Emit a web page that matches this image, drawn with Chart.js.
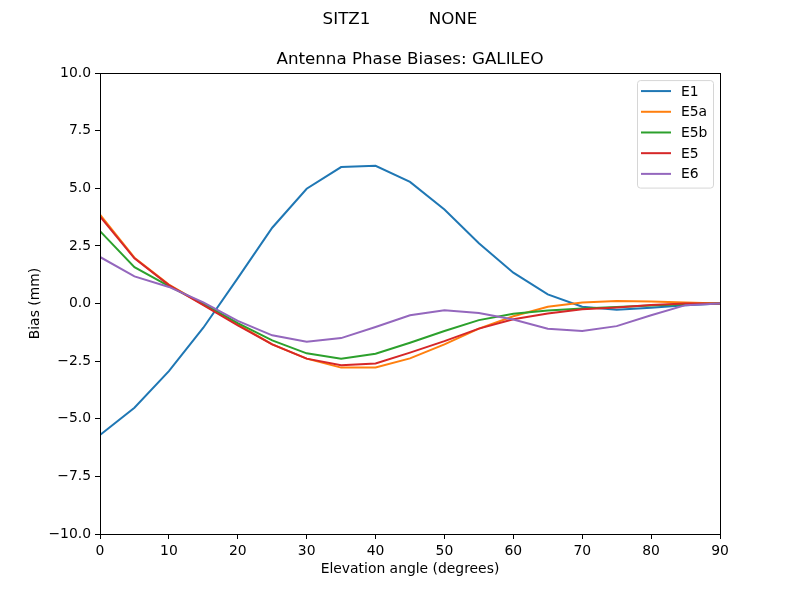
<!DOCTYPE html>
<html>
<head>
<meta charset="utf-8">
<script src="https://cdn.jsdelivr.net/npm/chart.js@4"></script>
<style>
  html, body { margin: 0; padding: 0; background: #fff; }
  canvas { display: block; }
</style>
</head>
<body>
<canvas id="chart" width="800" height="600"></canvas>
<script>
// Chart data
const elevation = [0, 5, 10, 15, 20, 25, 30, 35, 40, 45, 50, 55, 60, 65, 70, 75, 80, 85, 90];
const seriesNames = ['E1', 'E5a', 'E5b', 'E5', 'E6'];
const seriesColors = ['#1f77b4', '#ff7f0e', '#2ca02c', '#d62728', '#9467bd'];
const e1 = [-5.70, -4.52, -2.93, -1.05, 1.10, 3.29, 4.98, 5.92, 5.98, 5.28, 4.08, 2.62, 1.34, 0.40, -0.14, -0.27, -0.18, -0.07, 0.0];
const e5a = [3.86, 1.99, 0.82, -0.05, -0.90, -1.77, -2.39, -2.78, -2.77, -2.38, -1.77, -1.09, -0.55, -0.14, 0.04, 0.11, 0.09, 0.04, 0.0];
const e5b = [3.14, 1.58, 0.76, 0.00, -0.85, -1.60, -2.16, -2.39, -2.18, -1.70, -1.19, -0.72, -0.44, -0.30, -0.22, -0.15, -0.08, -0.03, 0.0];
const e5 = [3.78, 1.96, 0.80, -0.07, -0.95, -1.77, -2.39, -2.68, -2.60, -2.13, -1.63, -1.09, -0.68, -0.43, -0.25, -0.17, -0.06, 0.0, 0.0];
const e6 = [2.02, 1.18, 0.72, 0.05, -0.75, -1.38, -1.66, -1.50, -1.02, -0.51, -0.29, -0.41, -0.69, -1.09, -1.19, -0.98, -0.51, -0.07, 0.0];
const seriesValues = [e1, e5a, e5b, e5, e6];
const yTicks = [-10, -7.5, -5, -2.5, 0, 2.5, 5, 7.5, 10];

const FONT = 'DejaVu Sans';

// box around the plot and legend inside top right, like matplotlib
const framePlugin = {
  id: 'frame',
  afterDraw(chart) {
    const ctx = chart.ctx;
    const a = chart.chartArea;
    ctx.save();
    ctx.strokeStyle = '#000';
    ctx.lineWidth = 1;
    ctx.strokeRect(Math.round(a.left) + 0.5, Math.round(a.top) + 0.5,
      Math.round(a.right - a.left), Math.round(a.bottom - a.top));

    // legend
    const sets = chart.data.datasets;
    const boxW = 76, rowH = 20.7;
    const boxH = sets.length * rowH + 4;
    const bx = a.right - 7 - boxW, by = a.top + 7;
    ctx.fillStyle = 'rgba(255,255,255,0.8)';
    ctx.strokeStyle = '#d6d6d6';
    ctx.beginPath();
    ctx.roundRect(bx + 0.5, by + 0.5, boxW, boxH, 3);
    ctx.fill();
    ctx.stroke();
    ctx.font = '13.9px ' + FONT;
    ctx.textBaseline = 'middle';
    ctx.textAlign = 'left';
    sets.forEach((ds, i) => {
      const y = by + 11 + i * rowH;
      ctx.strokeStyle = ds.borderColor;
      ctx.lineWidth = 2;
      ctx.beginPath();
      ctx.moveTo(bx + 4, y);
      ctx.lineTo(bx + 34, y);
      ctx.stroke();
      ctx.fillStyle = '#000';
      ctx.fillText(ds.label, bx + 44, y + 1);
    });
    ctx.restore();
  }
};

const datasets = seriesNames.map((name, i) => ({
  label: name,
  data: elevation.map((x, j) => ({ x: x, y: seriesValues[i][j] })),
  borderColor: seriesColors[i],
  backgroundColor: seriesColors[i],
  borderWidth: 2,
  pointRadius: 0,
  tension: 0,
  order: seriesNames.length - i
}));

const minus = v => String(v).replace('-', '\u2212');

new Chart(document.getElementById('chart'), {
  type: 'line',
  data: { datasets },
  plugins: [framePlugin],
  options: {
    responsive: false,
    animation: false,
    devicePixelRatio: 1,
    layout: { padding: 0 },
    plugins: {
      legend: { display: false },
      tooltip: { enabled: false },
      title: {
        display: true,
        text: 'SITZ1           NONE',
        color: '#000',
        font: { family: FONT, size: 16.7, weight: 'normal' },
        padding: { top: 10, bottom: 10 }
      },
      subtitle: {
        display: true,
        fullSize: false,
        text: 'Antenna Phase Biases: GALILEO',
        color: '#000',
        font: { family: FONT, size: 16.7, weight: 'normal' },
        padding: { top: 10, bottom: 3 }
      }
    },
    scales: {
      x: {
        type: 'linear',
        min: 0,
        max: 90,
        afterFit(scale) { scale.height = 66; },
        ticks: {
          stepSize: 10,
          color: '#000',
          padding: 4,
          maxRotation: 0,
          font: { family: FONT, size: 13.9 }
        },
        grid: { drawOnChartArea: false, drawTicks: true, tickLength: 5, color: '#000', lineWidth: 1 },
        border: { display: true, color: '#000', width: 1 },
        title: {
          display: true,
          text: 'Elevation angle (degrees)',
          color: '#000',
          font: { family: FONT, size: 13.9 },
          padding: { top: 0, bottom: 22 }
        }
      },
      y: {
        type: 'linear',
        min: -10,
        max: 10,
        afterFit(scale) { scale.width = 100; },
        afterBuildTicks(scale) { scale.ticks = yTicks.map(v => ({ value: v })); },
        ticks: {
          color: '#000',
          padding: 4,
          font: { family: FONT, size: 13.9 },
          callback: v => minus(v.toFixed(1))
        },
        grid: { drawOnChartArea: false, drawTicks: true, tickLength: 5, color: '#000', lineWidth: 1 },
        border: { display: true, color: '#000', width: 1 },
        title: {
          display: true,
          text: 'Bias (mm)',
          color: '#000',
          font: { family: FONT, size: 13.9 },
          padding: { top: 27 }
        }
      },
      // empty right-hand margin, same width matplotlib leaves
      yRight: {
        type: 'linear',
        position: 'right',
        min: -10,
        max: 10,
        afterFit(scale) { scale.width = 80; },
        ticks: { display: false },
        grid: { display: false },
        border: { display: false }
      }
    }
  }
});
</script>
</body>
</html>
